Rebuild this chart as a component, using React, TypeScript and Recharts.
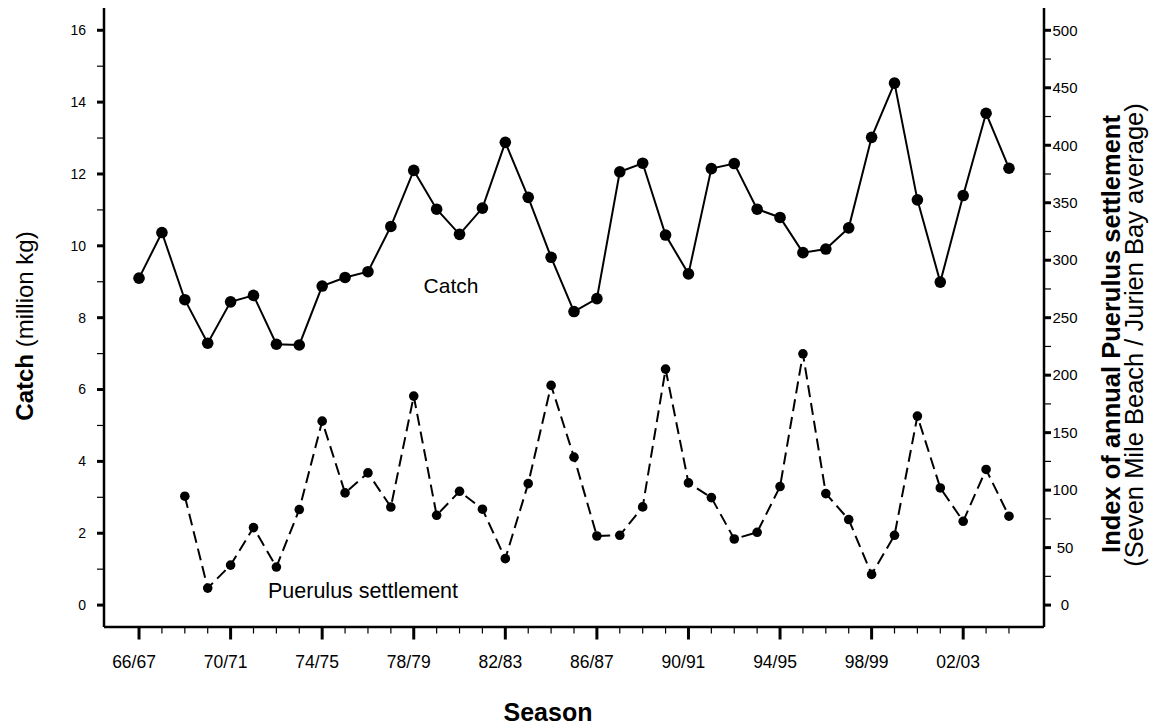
import React from 'react';
import { LineChart, Line, XAxis, YAxis } from 'recharts';

const SEASONS = [
  '66/67', '67/68', '68/69', '69/70', '70/71', '71/72', '72/73', '73/74', '74/75', '75/76',
  '76/77', '77/78', '78/79', '79/80', '80/81', '81/82', '82/83', '83/84', '84/85', '85/86',
  '86/87', '87/88', '88/89', '89/90', '90/91', '91/92', '92/93', '93/94', '94/95', '95/96',
  '96/97', '97/98', '98/99', '99/00', '00/01', '01/02', '02/03', '03/04', '04/05'
];

// seasons that get a printed label on the x axis
const LABELLED = ['66/67', '70/71', '74/75', '78/79', '82/83', '86/87', '90/91', '94/95', '98/99', '02/03'];

// catch, million kg
const CATCH = [
  9.1, 10.37, 8.5, 7.29, 8.44, 8.62, 7.26, 7.24, 8.88, 9.12,
  9.28, 10.54, 12.1, 11.02, 10.32, 11.05, 12.88, 11.35, 9.68, 8.17,
  8.53, 12.06, 12.3, 10.3, 9.22, 12.15, 12.29, 11.02, 10.79, 9.81,
  9.91, 10.5, 13.02, 14.53, 11.28, 8.99, 11.4, 13.69, 12.16
];

// puerulus settlement index (no sampling before 68/69)
const PUERULUS: (number | null)[] = [
  null, null, 94.7, 14.8, 34.8, 67.4, 33.1, 83.1, 160, 97.6,
  115, 85.3, 181.8, 78.1, 99, 83.4, 40.4, 105.7, 191.1, 128.7,
  60.1, 60.7, 85.4, 205.3, 106.3, 93.5, 57.5, 63.3, 103.1, 218.6,
  97, 74.4, 26.7, 60.7, 164.4, 101.9, 72.9, 118, 77.3
];

const LEFT_TICKS = [0, 1, 2, 3, 4, 5, 6, 7, 8, 9, 10, 11, 12, 13, 14, 15, 16];
const RIGHT_TICKS = [0, 25, 50, 75, 100, 125, 150, 175, 200, 225, 250, 275, 300, 325, 350, 375, 400, 425, 450, 475, 500];

const data = SEASONS.map((season, i) => ({
  idx: i,
  season,
  catch: CATCH[i],
  puerulus: PUERULUS[i]
}));

const FONT = '"Liberation Sans", Arial, Helvetica, sans-serif';

const SeasonTick = (props: any) => {
  const { x, y, payload } = props;
  const label = SEASONS[payload.value];
  const major = LABELLED.includes(label) || payload.value % 4 === 0;
  return (
    <g>
      <line x1={x} x2={x} y1={y} y2={y + (major ? 12.5 : 6.5)} stroke="#000" strokeWidth={major ? 3 : 1.2} />
      {LABELLED.includes(label) && (
        <text x={x - 5} y={y + 41} textAnchor="middle" fontSize={17.5} fontFamily={FONT} fill="#000">
          {label}
        </text>
      )}
    </g>
  );
};

const CatchTick = (props: any) => {
  const { x, y, payload } = props;
  const major = payload.value % 2 === 0;
  return (
    <g>
      <line x1={x - 7} x2={x} y1={y} y2={y} stroke="#000" strokeWidth={major ? 3 : 1.2} />
      {major && (
        <text x={x - 18} y={y} dy="0.35em" textAnchor="end" fontSize={14} fontFamily={FONT} fill="#000">
          {payload.value}
        </text>
      )}
    </g>
  );
};

const SettlementTick = (props: any) => {
  const { x, y, payload } = props;
  const major = payload.value % 50 === 0;
  return (
    <g>
      <line x1={x} x2={x + 7} y1={y} y2={y} stroke="#000" strokeWidth={major ? 3 : 1.2} />
      {major && (
        <text x={x + 21} y={y} dy="0.35em" textAnchor="middle" fontSize={15} fontFamily={FONT} fill="#000">
          {payload.value}
        </text>
      )}
    </g>
  );
};

export default function App() {
  return (
    <div style={{ position: 'absolute', left: 0, top: 0, width: 1163, height: 725, background: '#fff' }}>
      <LineChart width={1163} height={725} data={data} margin={{ top: 8, right: 0, bottom: 0, left: 0 }}>
        <XAxis
          dataKey="idx"
          type="number"
          domain={[-1.53, 39.53]}
          allowDataOverflow
          ticks={SEASONS.map((_, i) => i)}
          interval={0}
          height={98}
          tickSize={0}
          tickMargin={0}
          tickLine={false}
          axisLine={{ stroke: '#000', strokeWidth: 2.5 }}
          tick={<SeasonTick />}
        />
        <YAxis
          yAxisId="catch"
          orientation="left"
          type="number"
          domain={[-0.61, 16.62]}
          allowDataOverflow
          ticks={LEFT_TICKS}
          interval={0}
          width={104}
          tickSize={0}
          tickMargin={0}
          tickLine={false}
          axisLine={{ stroke: '#000', strokeWidth: 2.5 }}
          tick={<CatchTick />}
        />
        <YAxis
          yAxisId="settlement"
          orientation="right"
          type="number"
          domain={[-19.06, 519.4]}
          allowDataOverflow
          ticks={RIGHT_TICKS}
          interval={0}
          width={119}
          tickSize={0}
          tickMargin={0}
          tickLine={false}
          axisLine={{ stroke: '#000', strokeWidth: 2.5 }}
          tick={<SettlementTick />}
        />
        <Line
          yAxisId="catch"
          dataKey="catch"
          type="linear"
          stroke="#000"
          strokeWidth={2}
          dot={{ r: 5.8, fill: '#000', stroke: 'none', strokeWidth: 0 }}
          activeDot={false}
          isAnimationActive={false}
        />
        <Line
          yAxisId="settlement"
          dataKey="puerulus"
          type="linear"
          stroke="#000"
          strokeWidth={2}
          strokeDasharray="12 6"
          dot={{ r: 4.8, fill: '#000', stroke: 'none', strokeWidth: 0 }}
          activeDot={false}
          isAnimationActive={false}
        />
      </LineChart>
      <svg
        width={1163}
        height={725}
        style={{ position: 'absolute', left: 0, top: 0, pointerEvents: 'none' }}
        fontFamily={FONT}
      >
        <text x={451} y={293} textAnchor="middle" fontSize={21}>Catch</text>
        <text x={268} y={598} fontSize={21.5}>Puerulus settlement</text>
        <text x={548} y={721} textAnchor="middle" fontSize={25} fontWeight="bold">Season</text>
        <text x={33} y={326} textAnchor="middle" fontSize={24} transform="rotate(-90 33 326)">
          <tspan fontWeight="bold">Catch</tspan> (million kg)
        </text>
        <text x={1120} y={334} textAnchor="middle" fontSize={25.5} fontWeight="bold" transform="rotate(-90 1120 334)">
          Index of annual Puerulus settlement
        </text>
        <text x={1143} y={335} textAnchor="middle" fontSize={25.5} transform="rotate(-90 1143 335)">
          (Seven Mile Beach / Jurien Bay average)
        </text>
      </svg>
    </div>
  );
}
